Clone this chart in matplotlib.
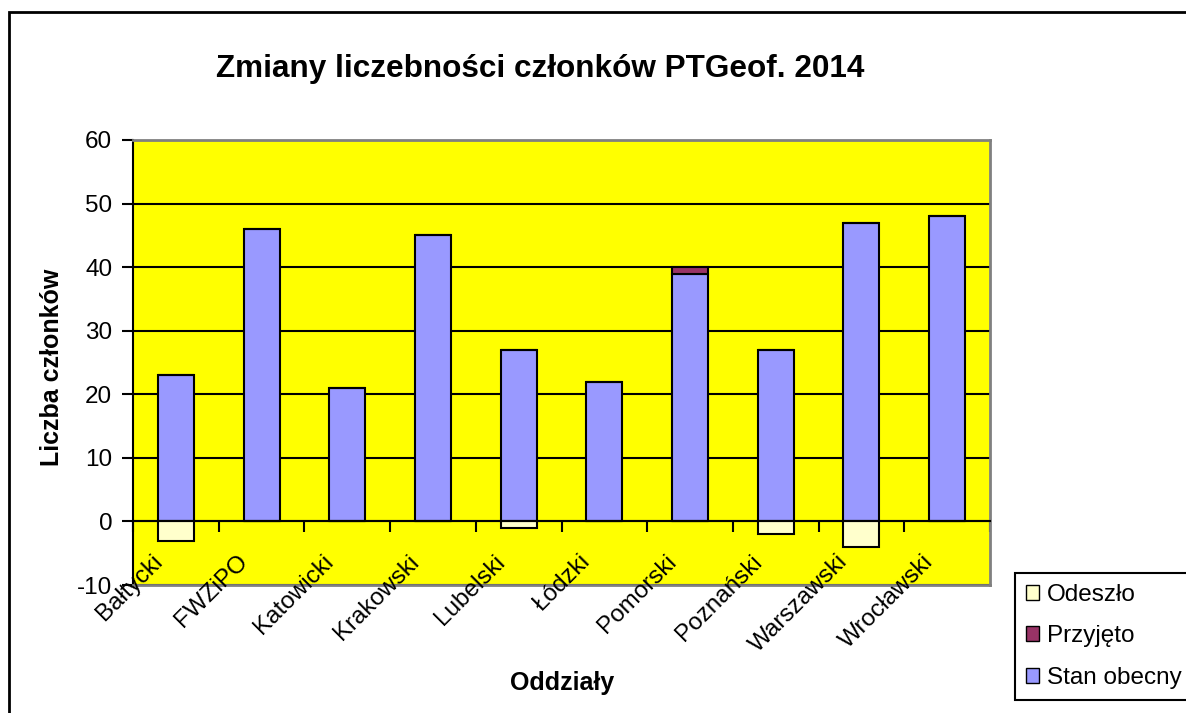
import numpy as np
import matplotlib.pyplot as plt
from matplotlib.patches import Patch, Rectangle

plt.rcParams['font.family'] = ['Liberation Sans', 'DejaVu Sans']
plt.rcParams['axes.unicode_minus'] = False

# dane
oddzialy = ['Bałtycki', 'FWZiPO', 'Katowicki', 'Krakowski', 'Lubelski',
            'Łódzki', 'Pomorski', 'Poznański', 'Warszawski', 'Wrocławski']
stan_obecny = [23, 46, 21, 45, 27, 22, 39, 27, 47, 48]
przyjeto = [0, 0, 0, 0, 0, 0, 1, 0, 0, 0]
odeszlo = [-3, 0, 0, 0, -1, 0, 0, -2, -4, 0]

W, H = 1186, 713
FS = 17.5
fig = plt.figure(figsize=(W / 100, H / 100), dpi=100)
fig.patch.set_facecolor('white')

ax = fig.add_axes([133 / W, 1 - 585 / H, (990 - 133) / W, (585 - 140) / H])
ax.set_facecolor('#FFFF00')

x = np.arange(len(oddzialy))
bw = 0.42
ax.bar(x, stan_obecny, bw, color='#9999FF', edgecolor='black', lw=1.5, zorder=3)
ax.bar(x, przyjeto, bw, bottom=stan_obecny, color='#993366', edgecolor='black', lw=1.5, zorder=3)
ax.bar(x, odeszlo, bw, color='#FFFFCC', edgecolor='black', lw=1.5, zorder=3)

ax.set_xlim(-0.5, len(oddzialy) - 0.5)
ax.set_ylim(-10, 60)
ax.set_yticks(range(-10, 61, 10))
ax.tick_params(axis='y', direction='out', length=8, width=1.5, labelsize=FS, pad=7)
ax.yaxis.grid(True, color='black', lw=1.5)
ax.set_axisbelow(True)

# os kategorii na 0
ax.spines['bottom'].set_position(('data', 0))
ax.spines['bottom'].set_linewidth(1.5)
ax.spines['bottom'].set_zorder(4)
ax.set_xticks(np.arange(-0.5, len(oddzialy), 1.0))
ax.set_xticklabels([])
ax.tick_params(axis='x', direction='out', length=8, width=1.5)
ax.spines['left'].set_linewidth(1.5)
for s in ['top', 'right']:
    ax.spines[s].set_color('#808080')
    ax.spines[s].set_linewidth(2)
ax.axhline(-10, color='#808080', lw=2, clip_on=False, zorder=4)

for i, name in enumerate(oddzialy):
    ax.text(i - 0.29, -4.6, name, rotation=45, ha='right', va='top',
            rotation_mode='anchor', fontsize=FS, zorder=5)

fig.text(540 / W, 1 - 77 / H, 'Zmiany liczebności członków PTGeof. 2014',
         ha='center', va='baseline', fontsize=22.7, fontweight='bold')
fig.text(52 / W, 1 - 367 / H, 'Liczba członków', rotation=90,
         ha='center', va='center', fontsize=18, fontweight='bold')
fig.text(562 / W, 1 - 690 / H, 'Oddziały', ha='center', va='baseline',
         fontsize=18, fontweight='bold')

# legenda
handles = [Patch(facecolor='#FFFFCC', edgecolor='black', label='Odeszło'),
           Patch(facecolor='#993366', edgecolor='black', label='Przyjęto'),
           Patch(facecolor='#9999FF', edgecolor='black', label='Stan obecny')]
leg = fig.legend(handles=handles, loc='upper left', bbox_to_anchor=(1015 / W, 1 - 573 / H),
                 fontsize=FS, frameon=True, fancybox=False, framealpha=1,
                 edgecolor='black', handlelength=0.55, handleheight=0.55,
                 handletextpad=0.3, labelspacing=0.8, borderpad=0.45,
                 borderaxespad=0)
leg.get_frame().set_linewidth(1.5)

# ramka wykresu
fig.patches.append(Rectangle((9 / W, -0.1), 1.2, 1.1 - 12 / H, transform=fig.transFigure,
                             fill=False, edgecolor='black', lw=2))

fig.savefig('out.png', dpi=100)
